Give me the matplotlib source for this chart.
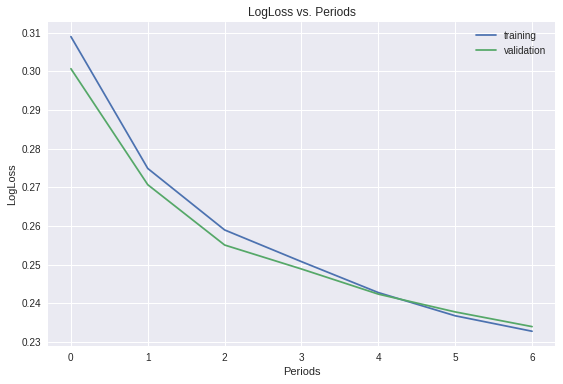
import matplotlib
matplotlib.use("Agg")
import matplotlib.pyplot as plt

periods = [0, 1, 2, 3, 4, 5, 6]
training = [0.3090, 0.2749, 0.2590, 0.2508, 0.2428, 0.2368, 0.2328]
validation = [0.3007, 0.2707, 0.2551, 0.2489, 0.2424, 0.2378, 0.2340]

plt.style.use("seaborn-v0_8")
plt.rcParams['font.family'] = ['Liberation Sans', 'DejaVu Sans']

fig = plt.figure(figsize=(563 / 72, 384 / 72), dpi=72)
fig.subplots_adjust(left=0.085, right=0.986, top=0.943, bottom=0.099)
ax = fig.add_subplot(111)

ax.plot(periods, training, label="training", color="#4C72B0")
ax.plot(periods, validation, label="validation", color="#55A868")
ax.set_title("LogLoss vs. Periods")
ax.set_xlabel("Periods")
ax.set_ylabel("LogLoss")
ax.legend(loc="upper right")

fig.savefig("out.png", dpi=72)
